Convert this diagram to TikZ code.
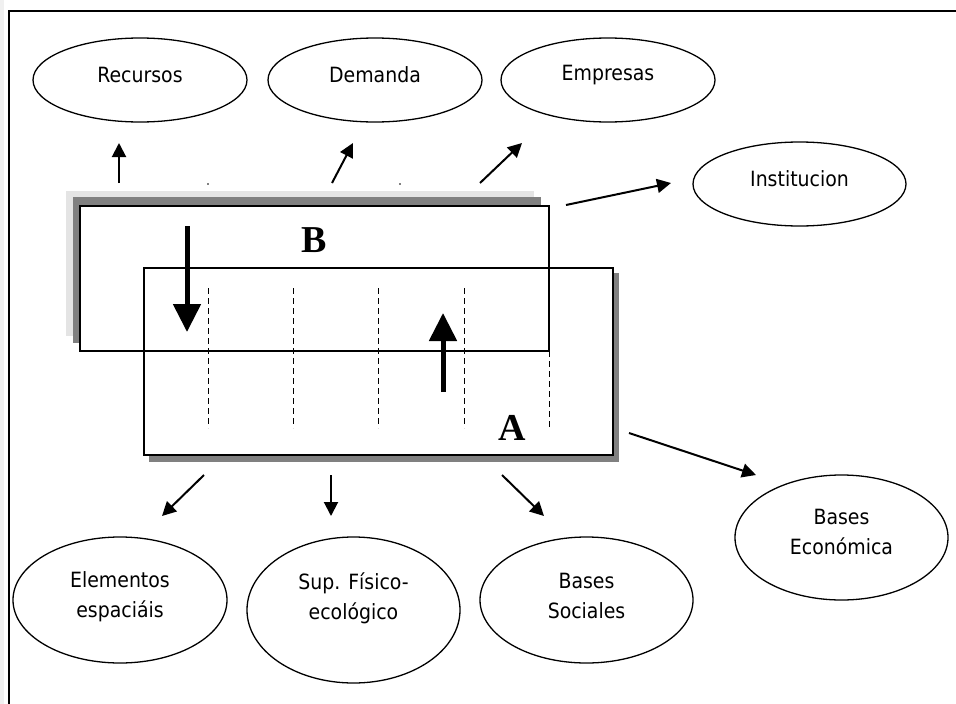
\documentclass[tikz,border=0pt]{standalone}
\usepackage{fontspec}
\newfontfamily\tahoma{DejaVu Sans Condensed}
\newfontfamily\timesf{Liberation Serif}
\usetikzlibrary{shapes.geometric,arrows.meta}
\definecolor{shadowdark}{HTML}{808080}
\definecolor{shadowlight}{HTML}{E4E4E4}
\definecolor{stripgray}{HTML}{F0F0F0}
\begin{document}
\begin{tikzpicture}[x=1pt,y=-1pt,
  ell/.style={ellipse,draw,line width=1.3pt,inner sep=0pt,minimum width=214pt},
  lbl/.style={font={\tahoma\fontsize{21}{30}\selectfont},align=center,inner sep=0pt},
  conn/.style={line width=2pt,-{Triangle[width=14pt,length=14pt]}},
  bigarr/.style={line width=5pt,-{Triangle[width=27pt,length=28pt]}},
  panel/.style={rectangle,draw,line width=1.2pt,fill=white,inner sep=0pt,outer sep=0pt},
  divline/.style={line width=1pt,dash pattern=on 6pt off 4pt}]
\useasboundingbox (0,0) rectangle (956,704);
\fill[white] (0,0) rectangle (956,704);
\fill[stripgray] (0,0) rectangle (4,704);
% frame
\draw[line width=1.5pt] (9,704) -- (9,11) -- (956,11);

% ellipses
\node[ell,minimum height=84pt] (rec) at (140,80) {};
\node[ell,minimum height=84pt] (dem) at (375,80) {};
\node[ell,minimum height=84pt] (emp) at (608,80) {};
\node[ell,minimum height=84pt,minimum width=213pt] (inst) at (799.5,184) {};
\node[ell,minimum height=126pt] (elem) at (120,600) {};
\node[ell,minimum height=146pt,minimum width=213pt] (sup) at (353.5,610) {};
\node[ell,minimum height=126pt,minimum width=213pt] (soc) at (586.5,600) {};
\node[ell,minimum height=125pt,minimum width=213pt] (eco) at (841.5,537.5) {};

% texts
\node[lbl] (trec) at ([yshift=5pt]rec.center) {Recursos};
\node[lbl] (tdem) at ([yshift=5pt]dem.center) {Demanda};
\node[lbl] (temp) at ([yshift=5pt]emp.center) {Empresas};
\node[lbl] (tinst) at ([yshift=5pt]inst.center) {Institucion};
\node[lbl] (telem) at ([yshift=3pt]elem.center) {Elementos\\espaciáis};
\node[lbl] (tsup) at ([yshift=11.5pt]sup.center) {Sup. Físico-\\ecológico};
\node[lbl] (tsoc) at ([yshift=4.5pt]soc.center) {Bases\\Sociales};
\node[lbl] (teco) at ([yshift=5.5pt]eco.center) {Bases\\Económica};

% shadows
\fill[shadowlight] (66,191) rectangle (534,336);
\fill[shadowdark] (73,197) rectangle (541,343);
\fill[shadowdark] (149,273) rectangle (619,462);

% panels
\node[panel,minimum width=469pt,minimum height=145pt] (rB) at (314.5,278.5) {};
\node[panel,minimum width=469pt,minimum height=187pt] (rA) at (378.5,361.5) {};
\draw[line width=1.2pt] (rB.south west) rectangle (rB.north east);

% dashed dividers
\foreach \xx in {208.7,293,378.7,464}{
  \draw[divline] (\xx,288) -- (\xx,428);
}
\draw[divline] (rB.south east) -- (549,428);

% panel labels
\node[font={\timesf\bfseries\fontsize{38}{38}\selectfont},inner sep=0pt] (lB) at (314,240) {B};
\node[font={\timesf\bfseries\fontsize{38}{38}\selectfont},inner sep=0pt] (lA) at (512,428) {A};

% big arrows
\coordinate (bd1) at (187,226);
\coordinate (bd2) at (187,332);
\coordinate (bu1) at (443,392);
\coordinate (bu2) at (443,313);
\draw[bigarr] (bd1) -- (bd2);
\draw[bigarr] (bu1) -- (bu2);

% tiny dots
\fill (208,184) circle (0.8);
\fill (400,184) circle (0.8);

% connector coordinates
\coordinate (s1) at (119,183); \coordinate (e1) at (119,143);
\coordinate (s2) at (332,183); \coordinate (e2) at (353,143);
\coordinate (s3) at (480,183); \coordinate (e3) at (522,143);
\coordinate (s4) at (566,205); \coordinate (e4) at (671,183);
\coordinate (s5) at (629,433); \coordinate (e5) at (756,475);
\coordinate (s6) at (204,475); \coordinate (e6) at (162,516);
\coordinate (s7) at (331,475); \coordinate (e7) at (331,516);
\coordinate (s8) at (502,475); \coordinate (e8) at (544,516);
\foreach \i in {1,...,8}{
  \draw[conn] (s\i) -- (e\i);
}
\end{tikzpicture}
\end{document}
